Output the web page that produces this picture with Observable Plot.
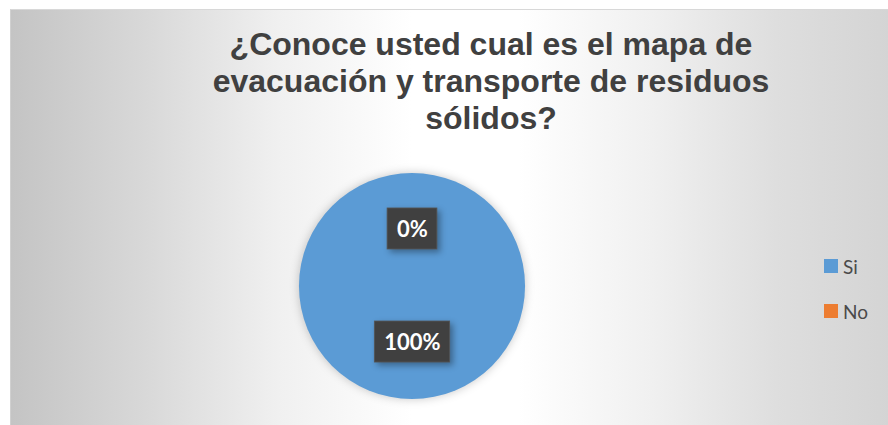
<!DOCTYPE html>
<html>
<head>
<meta charset="utf-8">
<script src="https://cdn.jsdelivr.net/npm/d3@7"></script>
<script src="https://cdn.jsdelivr.net/npm/@observablehq/plot@0.6"></script>
<style>
  html, body { margin: 0; padding: 0; background: #ffffff; }
  body { width: 888px; height: 425px; position: relative; overflow: hidden; }
  #frame {
    position: absolute; left: 10px; top: 9px; width: 890px; height: 430px;
    border-top: 1px solid #d8d8d8; border-left: 1px solid #d0d0d0;
    background: linear-gradient(90deg, #c4c4c4 0%, #d8d8d8 15%, #f0f0f0 30%, #ffffff 45%, #ffffff 57%, #f0f0f0 72%, #dedede 86%, #d3d3d3 100%);
  }
  #title {
    position: absolute; left: 191px; top: 26px; width: 600px;
    text-align: center; font-family: "Liberation Sans", Arial, sans-serif;
    font-weight: bold; font-size: 32px; line-height: 37px; color: #404040;
    white-space: nowrap;
  }
  #chart { position: absolute; left: 282px; top: 156px; }
  #legend {
    position: absolute; left: 812px; top: 242px; width: 70px; height: 90px;
    font-family: Lato, "Open Sans", sans-serif; font-size: 19px; color: #4a4a4a;
  }
  .item { position: absolute; left: 12px; height: 20px; line-height: 20px; }
  .sw { position: absolute; left: 0; top: 3px; width: 14px; height: 14px; }
  .lt { position: absolute; left: 19px; top: 1px; }
</style>
</head>
<body>
<div id="frame"></div>
<div id="title"></div>
<div id="chart"></div>
<div id="legend"></div>
<script>
const titleLines = ["¿Conoce usted cual es el mapa de", "evacuación y transporte de residuos", "sólidos?"];
const categories = ["Si", "No"];
const values = [100, 0];
const labels = ["100%", "0%"];
const colors = ["#5b9bd5", "#ed7d31"];

// title
const t = document.getElementById("title");
titleLines.forEach(l => { const d = document.createElement("div"); d.textContent = l; t.appendChild(d); });

// legend
const lg = document.getElementById("legend");
categories.forEach((c, i) => {
  const it = document.createElement("div");
  it.className = "item";
  it.style.top = (14 + i * 45) + "px";
  it.innerHTML = `<span class="sw" style="background:${colors[i]}"></span><span class="lt">${c}</span>`;
  lg.appendChild(it);
});

// pie geometry from data (unit radius)
const arcs = d3.pie().sort(null).value((d) => d.value)(categories.map((c, i) => ({category: c, value: values[i], label: labels[i], color: colors[i]})));
const unitArc = d3.arc().innerRadius(0).outerRadius(1);
const rows = arcs.map((a) => {
  const [cx, cy] = unitArc.centroid(a);
  return {...a.data, startAngle: a.startAngle, endAngle: a.endAngle, cx, cy: -cy};
});

const labelFont = "bold 22px Lato";
const ctx = document.createElement("canvas").getContext("2d");
ctx.font = labelFont;

const pieMark = (index, scales, values, dimensions) => {
  const r = scales.x(1) - scales.x(0);
  const g = d3.create("svg:g")
    .attr("transform", `translate(${scales.x(0)},${scales.y(0)})`)
    .style("filter", "drop-shadow(0px 0px 5px rgba(0,0,0,0.22))");
  const arc = d3.arc().innerRadius(0).outerRadius(r);
  g.selectAll("path").data(rows.filter(d => d.value > 0)).join("path")
    .attr("d", (d) => arc(d))
    .attr("fill", (d) => d.color);
  return g.node();
};

const boxMark = (index, scales) => {
  const g = d3.create("svg:g");
  rows.forEach((d) => {
    const w = ctx.measureText(d.label).width + 19;
    const h = 41;
    g.append("rect")
      .attr("x", scales.x(d.cx) - w / 2)
      .attr("y", scales.y(d.cy) - h / 2 - 1)
      .attr("width", w).attr("height", h)
      .attr("fill", "#404040")
      .attr("stroke", "#555").attr("stroke-width", 0.8)
      .style("filter", "drop-shadow(3px 3px 3px rgba(0,0,0,0.35))");
  });
  return g.node();
};

const plot = Plot.plot({
  width: 260,
  height: 260,
  margin: 0,
  x: {domain: [-1.15, 1.15], axis: null},
  y: {domain: [-1.15, 1.15], axis: null},
  style: {background: "transparent", overflow: "visible"},
  marks: [
    pieMark,
    boxMark,
    Plot.text(rows, {x: "cx", y: "cy", text: "label", fill: "white", fontSize: 22, fontWeight: "bold", fontFamily: "Lato"})
  ]
});
document.getElementById("chart").appendChild(plot);
</script>
</body>
</html>
